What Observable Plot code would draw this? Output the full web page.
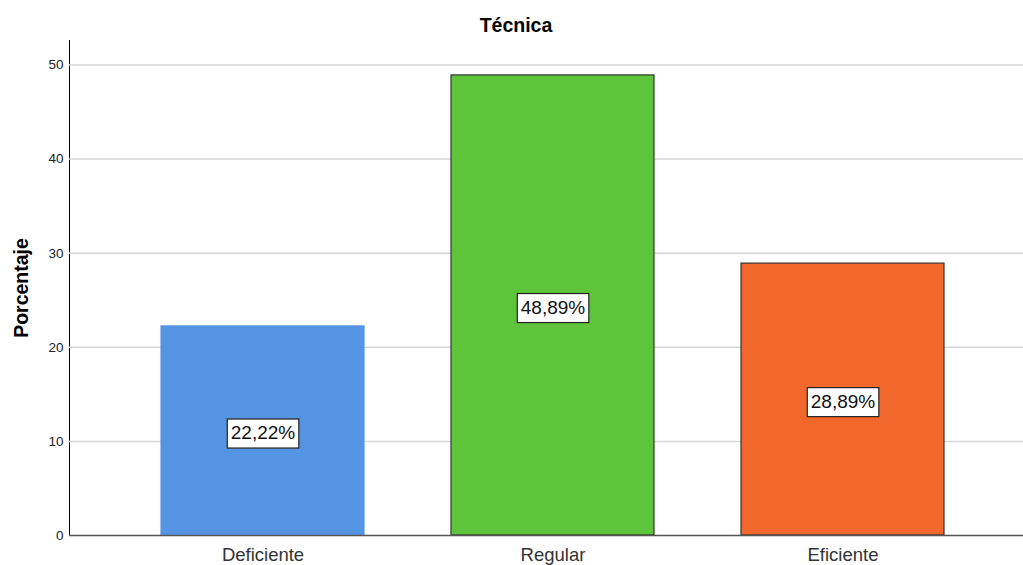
<!DOCTYPE html>
<html>
<head>
<meta charset="utf-8">
<script src="https://cdn.jsdelivr.net/npm/d3@7"></script>
<script src="https://cdn.jsdelivr.net/npm/@observablehq/plot@0.6"></script>
<style>
  html, body { margin: 0; padding: 0; background: #fff; }
  #wrap { width: 1023px; height: 565px; position: relative; font-family: "Liberation Sans", Arial, sans-serif; }
  #title { height: 40px; box-sizing: border-box; padding-top: 14px; padding-left: 9px; text-align: center;
           font-weight: bold; font-size: 19.5px; line-height: normal; color: #000; }
  svg { display: block; }
</style>
</head>
<body>
<div id="wrap">
  <div id="title">Técnica</div>
  <div id="chart"></div>
</div>
<script>
const categories = ["Deficiente", "Regular", "Eficiente"];
const percentages = [22.22, 48.89, 28.89];
const labels = ["22,22%", "48,89%", "28,89%"];
const fills = ["#5594e3", "#5ec43a", "#f2672c"];
const strokes = ["#5a97e0", "#333333", "#333333"];
const yTicks = [0, 10, 20, 30, 40, 50];

const data = categories.map((c, i) => ({
  cat: c, value: percentages[i], label: labels[i], fill: fills[i], stroke: strokes[i]
}));

const chart = Plot.plot({
  width: 1023,
  height: 525,
  marginLeft: 69,
  marginRight: 0,
  marginTop: 0,
  marginBottom: 30,
  style: { fontFamily: '"Liberation Sans", Arial, sans-serif', background: "#fff" },
  x: {
    type: "band",
    domain: categories,
    range: [117, 987],
    paddingInner: 0.3,
    paddingOuter: 0.15,
    label: null,
    tickSize: 0,
    tickPadding: 12
  },
  y: {
    domain: [0, 52.6],
    ticks: yTicks,
    label: null,
    tickSize: 0,
    tickPadding: 6,
    line: true
  },
  marks: [
    Plot.ruleY(yTicks.filter(d => d > 0), { stroke: "#d6d6d6", strokeWidth: 1.5 }),
    Plot.barY(data, { x: "cat", y: "value", fill: "fill", stroke: "stroke", strokeWidth: 1.2 }),
    Plot.ruleY([0], { stroke: "#555", strokeWidth: 1.5 }),
    Plot.text(data, {
      x: "cat", y: d => d.value / 2, text: "label",
      fontSize: 19, fill: "#111", dy: 2
    }),
    Plot.text(["Porcentaje"], {
      frameAnchor: "left", textAnchor: "middle", dx: -48, rotate: -90,
      fontWeight: "bold", fontSize: 19.5, fill: "#000"
    })
  ]
});

document.getElementById("chart").appendChild(chart);

// style axes
const svg = d3.select(chart);
svg.selectAll('g[aria-label="y-axis tick label"] text, g[aria-label="y-axis tick label"]')
  .attr("font-size", 13.5).attr("fill", "#222");
svg.selectAll('g[aria-label="x-axis tick label"]').attr("font-size", 18.5).attr("fill", "#333");
svg.selectAll('g[aria-label="y-axis line"] line, g[aria-label="y-axis line"] path')
  .attr("stroke", "#888").attr("stroke-width", 2);

// white boxes behind value labels
svg.selectAll("text").filter(function () {
  return labels.includes(this.textContent);
}).each(function () {
  const bb = this.getBBox();
  const padX = 3.5, padY = 4;
  const t = this.getAttribute("transform");
  const r = document.createElementNS("http://www.w3.org/2000/svg", "rect");
  r.setAttribute("x", bb.x - padX);
  r.setAttribute("y", bb.y - padY + 1);
  r.setAttribute("width", bb.width + 2 * padX);
  r.setAttribute("height", bb.height + 2 * padY);
  r.setAttribute("fill", "#fff");
  r.setAttribute("stroke", "#222");
  r.setAttribute("stroke-width", 1.2);
  if (t) r.setAttribute("transform", t);
  this.parentNode.insertBefore(r, this);
});
</script>
</body>
</html>
